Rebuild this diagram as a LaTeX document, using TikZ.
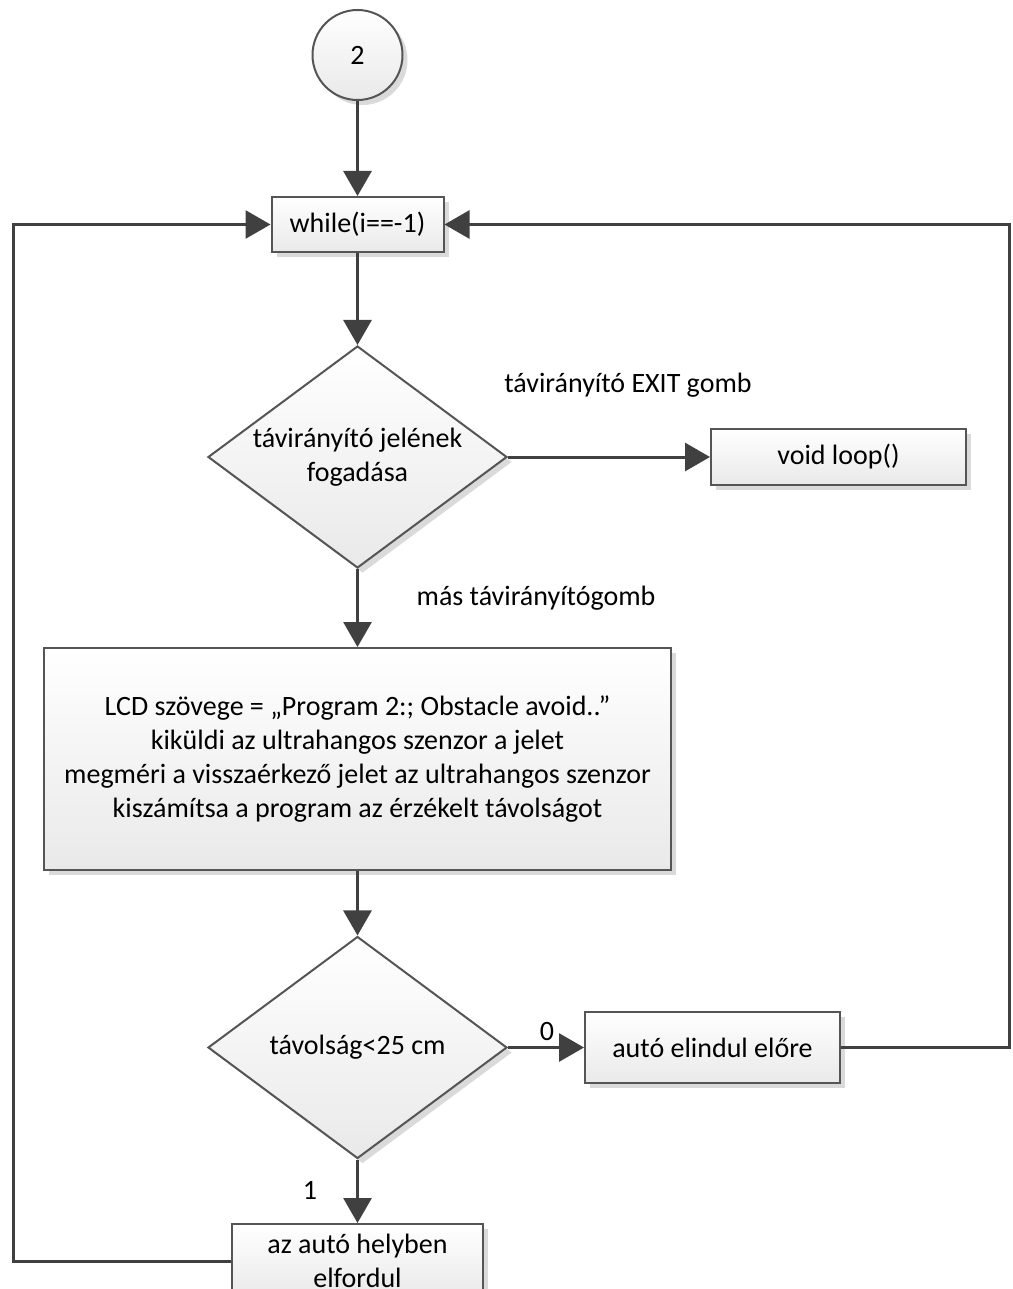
\documentclass[tikz,border=0pt]{standalone}
\usepackage{fontspec}
\setmainfont{Carlito}
\usetikzlibrary{shapes.geometric,arrows.meta,shadows}

\definecolor{linegray}{HTML}{404040}
\definecolor{framegray}{HTML}{555555}
\definecolor{shadowgray}{HTML}{DADADA}
\definecolor{fillbottom}{HTML}{E9E9E9}

\begin{document}
\begin{tikzpicture}[x=0.5pt, y=-0.5pt, font=\fontsize{14}{17}\selectfont,
    block/.style={draw=framegray, line width=1pt, top color=white, bottom color=fillbottom,
      align=center, inner sep=0pt,
      drop shadow={shadow xshift=2.5pt, shadow yshift=-2.5pt, fill=shadowgray, opacity=1}},
    decision/.style={block, diamond, aspect=1.35, minimum width=149.5pt, minimum height=111pt},
    flow/.style={draw=linegray, line width=1.5pt, -{Triangle[length=12.5pt, width=14pt]}}]
  \useasboundingbox (0,0) rectangle (1012,1289);

  % nodes
  \node[block, circle, minimum size=45pt] (start) at (357.5,55) {2};
  \node[block, minimum width=86pt, minimum height=27.5pt] (loop) at (357.5,224.5) {while(i==-1)};
  \node[decision] (remote) at (357.5,457) {távirányító jelének\\fogadása};
  \node[block, minimum width=127.5pt, minimum height=28pt] (exit) at (838.5,457) {void loop()};
  \node[block, minimum width=313.5pt, minimum height=111pt] (measure) at (357.5,759)
    {LCD szövege = „Program 2:; Obstacle avoid..”\\
     kiküldi az ultrahangos szenzor a jelet\\
     megméri a visszaérkező jelet az ultrahangos szenzor\\
     kiszámítsa a program az érzékelt távolságot};
  \node[decision] (dist) at (357.5,1047.5) {távolság<25 cm};
  \node[block, minimum width=127.5pt, minimum height=35.5pt] (forward) at (712.5,1047.5) {autó elindul előre};
  \node[block, minimum width=125.5pt, minimum height=37pt] (turn) at (357.5,1261) {az autó helyben\\elfordul};

  % branch labels
  \node (exitlabel) at (628,385) {távirányító EXIT gomb};
  \node (otherlabel) at (536,598) {más távirányítógomb};
  \node (zerolabel) at (547,1031) {0};
  \node (onelabel) at (310,1190) {1};

  % return rails
  \coordinate (rightrail) at (1009.5,224.5);
  \coordinate (leftrail) at (13,224.5);

  % connectors
  \draw[flow] (start) -- (loop);
  \draw[flow] (loop) -- (remote);
  \draw[flow] (remote) -- (exit);
  \draw[flow] (remote) -- (measure);
  \draw[flow] (measure) -- (dist);
  \draw[flow] (dist) -- (forward);
  \draw[flow] (dist) -- (turn);
  \draw[flow] (forward.east) -| (rightrail) -- (loop.east);
  \draw[flow] (turn.west) -| (leftrail) -- (loop.west);
\end{tikzpicture}
\end{document}
